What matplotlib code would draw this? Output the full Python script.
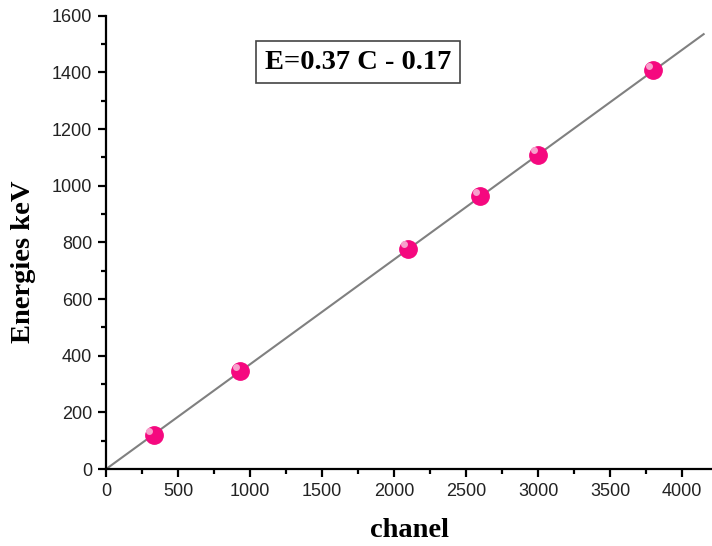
import matplotlib
matplotlib.use("Agg")
import matplotlib.pyplot as plt
import matplotlib.transforms as mtransforms
import numpy as np

# calibration points
chanel = [330, 930, 2100, 2600, 3000, 3800]
energies = [120, 345, 778, 963, 1110, 1408]

# fitted line E = 0.37 C - 0.17
slope = 0.37
intercept = -0.17
fit_x = [0, 4150]

fig = plt.figure(figsize=(7.12, 5.46), dpi=100)
ax = fig.add_axes([0.149, 0.141, 0.851, 0.830])

fx = np.array(fit_x)
ax.plot(fx, slope * fx + intercept, color="#808080", lw=1.5, zorder=2)

ax.plot(chanel, energies, "o", ms=12.5, mfc="#f5087f", mec="#f5087f", zorder=3)
# small highlight on each ball
hl = ax.transData + mtransforms.ScaledTranslation(-3 / 72, 3 / 72, fig.dpi_scale_trans)
ax.plot(chanel, energies, "o", ms=5, mfc="#f7a0cc", mec="none", transform=hl, zorder=4)

ax.set_xlim(0, 4208)
ax.set_ylim(0, 1600)
ax.set_xticks(np.arange(0, 4001, 500))
ax.set_xticks(np.arange(250, 4200, 500), minor=True)
ax.set_yticks(np.arange(0, 1601, 200))
ax.set_yticks(np.arange(100, 1600, 200), minor=True)

for s in ["top", "right"]:
    ax.spines[s].set_visible(False)
for s in ["left", "bottom"]:
    ax.spines[s].set_linewidth(1.6)

ax.tick_params(which="major", direction="out", length=6, width=1.6,
               labelsize=13, pad=4)
ax.tick_params(which="minor", direction="out", length=3.5, width=1.6)
for lab in ax.get_xticklabels() + ax.get_yticklabels():
    lab.set_family("Liberation Sans")
    lab.set_color("#222222")

ax.set_xlabel("chanel", fontsize=20.5, fontweight="bold", family="Liberation Serif", labelpad=13)
ax.set_ylabel("Energies keV", fontsize=20.5, fontweight="bold", family="Liberation Serif")
ax.yaxis.set_label_coords(-0.115, 0.457)

ax.text(0.262, 0.898, "E=0.37 C - 0.17", transform=ax.transAxes, fontsize=20.5,
        fontweight="bold", family="Liberation Serif", va="center", ha="left",
        bbox=dict(boxstyle="square,pad=0.3", fc="white", ec="#444444", lw=1.2))

fig.savefig("out.png", dpi=100)
